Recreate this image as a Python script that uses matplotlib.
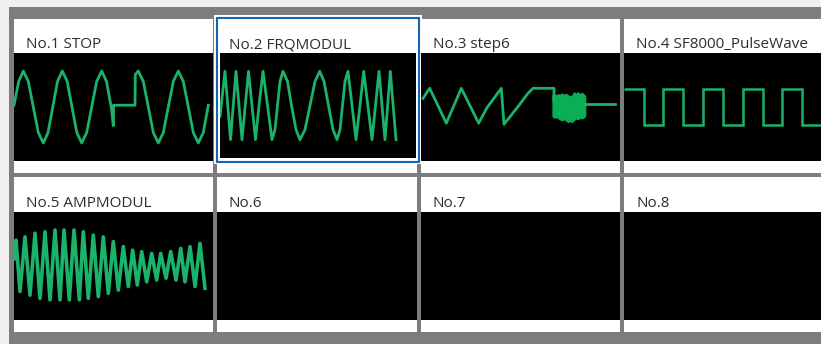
import numpy as np
import matplotlib.pyplot as plt
from matplotlib.patches import Rectangle

W, H = 821, 344

titles = ['No.1 STOP', 'No.2 FRQMODUL', 'No.3 step6', 'No.4 SF8000_PulseWave',
          'No.5 AMPMODUL', 'No.6', 'No.7', 'No.8']

# No.1 STOP: sine that stops for a while
stop_t = [0, 4.7, 9.3, 14.3, 19.3, 24.3, 29.3, 34, 38.8, 43.5,
          48.3, 53.2, 58, 62.8, 67.7, 72.7, 77.7, 82.7, 87.7, 92.5,
          97.5, 99.3, 99.6, 121, 121.3, 124.3, 129.3, 134.3, 139.3, 144.3,
          149.3, 154.3, 159.3, 164.3, 169.3, 174.3, 179.3, 184.3, 189.3, 194.3]
stop_v = [0.05, 0.71, 1, 0.71, 0, -0.71, -1, -0.71, 0, 0.71,
          1, 0.71, 0, -0.71, -1, -0.71, 0, 0.71, 1, 0.71,
          -0.05, -0.52, 0.05, 0.05, 0.9, 1, 0.71, 0, -0.71, -1,
          -0.71, 0, 0.71, 1, 0.71, 0, -0.71, -1, -0.71, 0.05]

# No.2 FRQMODUL
frq_t = [0, 5, 10.5, 16, 22, 28.5, 35.5, 39, 43, 47.5,
         52, 55, 57.5, 60, 63, 67.5, 71.5, 76, 80, 85,
         90, 95, 99.7, 104, 108.5, 113, 117, 120, 122.5, 125,
         128, 132, 136, 140, 143.7, 152, 159, 165, 170.3, 176]
frq_v = [-0.3, 0.95, -0.95, 0.95, -0.95, 0.95, -0.95, 0, 0.95, 0,
         -0.95, -0.67, 0, 0.67, 0.95, 0.67, 0, -0.67, -0.95, -0.67,
         0, 0.67, 0.95, 0.67, 0, -0.67, -0.95, -0.67, 0, 0.67,
         0.95, 0, -0.95, 0, 0.95, -0.95, 0.95, -0.95, 0.95, -0.95]

# No.3 step6: ramps, a burst, then flat
step_t = [2, 8.7, 25.3, 40.3, 57.7, 66, 80.3, 83, 97, 107, 112, 133, 133]
step_v = [0.24, 0.52, -0.45, 0.52, -0.45, -0.02, 0.52, -0.48, 0.01, 0.38, 0.52, 0.52, 0.2]
burst_t = [131.7, 133, 135, 137, 139, 141, 143, 145, 147, 149, 151, 153,
           155, 157, 159, 161, 163, 164]
burst_hi = [0.33, 0.36, 0.31, 0.35, 0.33, 0.37, 0.33, 0.36, 0.32, 0.29, 0.31, 0.4,
            0.36, 0.4, 0.35, 0.39, 0.33, 0.3]
burst_lo = [-0.25, -0.29, -0.27, -0.3, -0.34, -0.36, -0.33, -0.37, -0.41, -0.38, -0.41, -0.35,
            -0.31, -0.33, -0.29, -0.31, -0.27, -0.25]
tail_t = [163.5, 194]
tail_v = [0.08, 0.08]

# No.4 SF8000_PulseWave
pulse_edges = [0, 20, 39.3, 59.3, 79.3, 99.3, 118.7, 138.7, 158.3, 177.7, 200]
pulse_levels = [0.5, -0.5, 0.5, -0.5, 0.5, -0.5, 0.5, -0.5, 0.5, -0.5]

# No.5 AMPMODUL: alternating peaks and troughs
amp_t = [0, 2, 6, 11, 16, 21, 26, 31, 36, 41, 46, 50, 55.3, 60, 65.3, 69.3, 74.3,
         79.3, 84.3, 89.3, 94.3, 99.3, 104.3, 109.3, 114.3, 118.7, 123.3, 127.7,
         132.7, 137.7, 142.7, 146.7, 152, 156.7, 162, 166.7, 171, 176, 181, 186, 191]
amp_v = [0.2, 0.72, -0.71, 0.81, -0.81, 0.91, -0.9, 0.95, -0.94, 1.0, -0.94, 1.0,
         -0.94, 1.0, -0.94, 0.95, -0.9, 0.86, -0.85, 0.81, -0.76, 0.68, -0.67, 0.54,
         -0.57, 0.44, -0.53, 0.4, -0.44, 0.35, -0.39, 0.35, -0.34, 0.4, -0.39, 0.49,
         -0.44, 0.54, -0.57, 0.63, -0.62]

GREEN = '#1bb26a'
BURST = '#0aae55'
FRAME = '#7d7d7d'


def frac(x0, y0, x1, y1):
    return [x0 / W, 1 - y1 / H, (x1 - x0) / W, (y1 - y0) / H]


def scope(x0, y0, x1, y1):
    ax = fig.add_axes(frac(x0, y0, x1, y1))
    ax.set_facecolor('black')
    for s in ax.spines.values():
        s.set_visible(False)
    ax.set_xticks([])
    ax.set_yticks([])
    half = (y1 - y0) / 2 / 36.0
    ax.set_xlim(0, x1 - x0)
    ax.set_ylim(-half, half)
    return ax


fig = plt.figure(figsize=(W / 100, H / 100), dpi=100)
fig.patch.set_facecolor('#f0f0f0')

bg = fig.add_axes([0, 0, 1, 1])
bg.set_xlim(0, W)
bg.set_ylim(H, 0)
bg.axis('off')
bg.add_patch(Rectangle((9, 7), W, H, color=FRAME, lw=0))

col_x0 = [14, 217, 421, 624]
col_x1 = [213, 417, 620, 824]
cell_top = [19, 177]
cell_bot = [173, 332]
black_top = [53, 212]
black_bot = [161, 320]
base_y = [48.5, 207]

for r in range(2):
    for c in range(4):
        bg.add_patch(Rectangle((col_x0[c], cell_top[r]), col_x1[c] - col_x0[c],
                               cell_bot[r] - cell_top[r], color='white', lw=0))

# selected slot No.2
bg.add_patch(Rectangle((214, 14.5), 208, 149.5, color='white', lw=0))
bg.add_patch(Rectangle((217, 17.5), 202, 144, fill=False, ec='#1565b0', lw=1.5))

for i, t in enumerate(titles):
    r, c = divmod(i, 4)
    bg.text(col_x0[c] + 12, base_y[r], t, fontsize=11, family='Open Sans',
            color='#2d2d2d', va='baseline', ha='left')

axes = []
for r in range(2):
    for c in range(4):
        if r == 0 and c == 1:
            axes.append(scope(220, 53, 416, 158))
        else:
            axes.append(scope(col_x0[c], black_top[r], col_x1[c], black_bot[r]))

lw = 2.0
axes[0].plot(stop_t, stop_v, color=GREEN, lw=lw)
axes[1].plot(frq_t, frq_v, color=GREEN, lw=lw)
axes[2].plot(step_t, step_v, color=GREEN, lw=lw)
axes[2].fill_between(burst_t, burst_lo, burst_hi, color=BURST, lw=1.2, edgecolor=BURST)
axes[2].plot(tail_t, tail_v, color=GREEN, lw=lw)
axes[3].stairs(pulse_levels, pulse_edges, baseline=None, color=GREEN, lw=1.8)
axes[4].plot(amp_t, amp_v, color=GREEN, lw=2.6)

fig.savefig('out.png', dpi=100, facecolor=fig.get_facecolor())
